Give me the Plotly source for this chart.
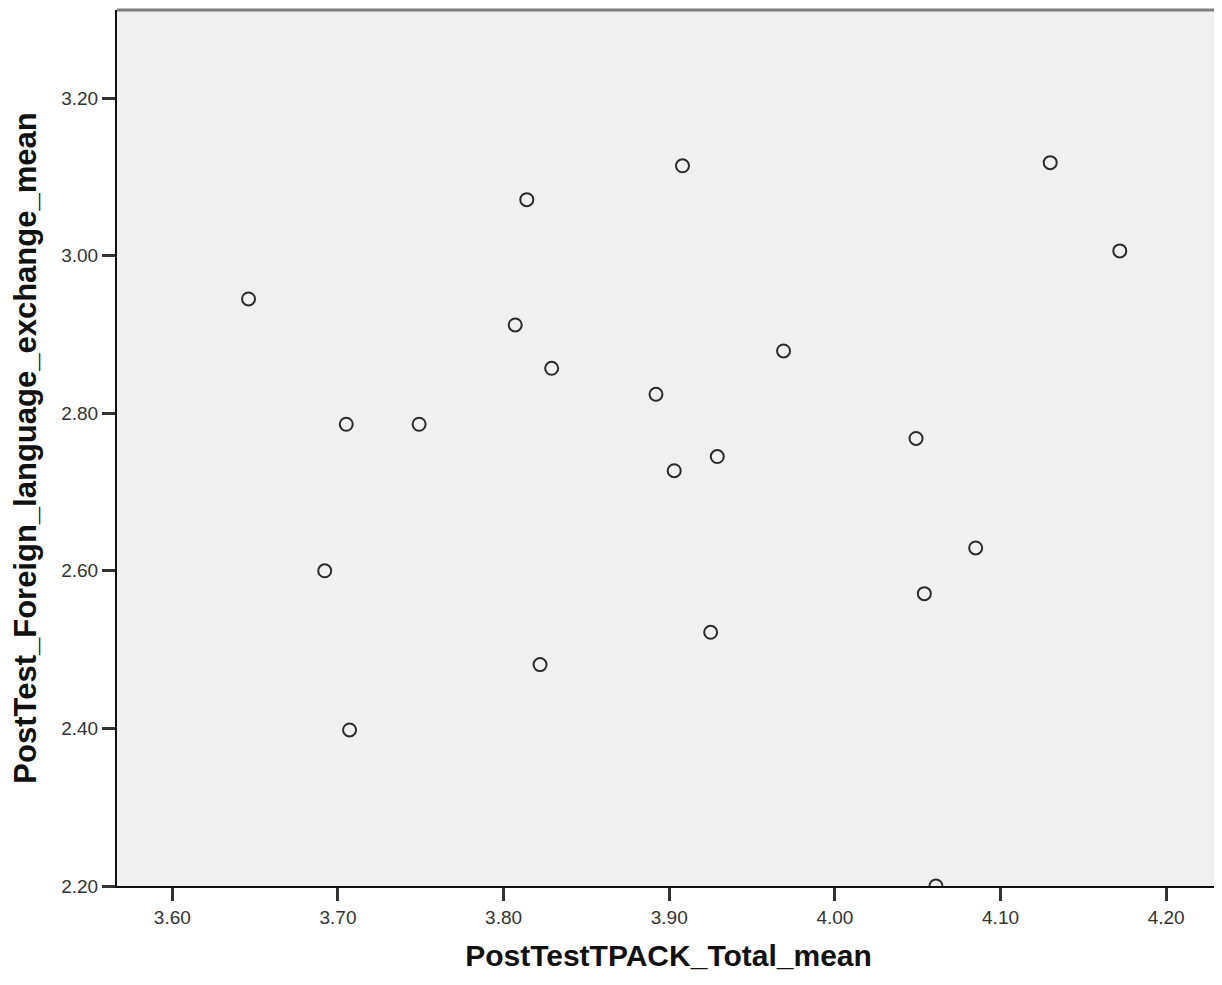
import plotly.graph_objects as go

tpack_total_mean = [3.646, 3.705, 3.749, 3.692, 3.707, 3.814, 3.807, 3.829, 3.822,
                    3.908, 3.892, 3.903, 3.929, 3.925, 3.969, 4.049, 4.054, 4.061,
                    4.085, 4.130, 4.172]
foreign_lang_mean = [2.945, 2.786, 2.786, 2.600, 2.398, 3.071, 2.912, 2.857, 2.481,
                     3.114, 2.824, 2.727, 2.745, 2.522, 2.879, 2.768, 2.571, 2.200,
                     2.629, 3.118, 3.006]

x_ticks = [3.60, 3.70, 3.80, 3.90, 4.00, 4.10, 4.20]
y_ticks = [2.20, 2.40, 2.60, 2.80, 3.00, 3.20]

font_family = "Arial, Liberation Sans, sans-serif"

fig = go.Figure()
fig.add_trace(go.Scatter(
    x=tpack_total_mean, y=foreign_lang_mean, mode="markers",
    marker=dict(symbol="circle-open", size=13, color="#2b2b2b", line=dict(width=2, color="#2b2b2b")),
    showlegend=False, hoverinfo="x+y",
))

fig.update_layout(
    width=1214, height=977,
    margin=dict(l=109, r=2, t=2, b=99),
    paper_bgcolor="white", plot_bgcolor="#f0f0f0",
    font=dict(family=font_family, color="#222222"),
    xaxis=dict(
        range=[3.5666, 4.2325], tickvals=x_ticks, ticktext=[f"{v:.2f}" for v in x_ticks],
        showgrid=False, zeroline=False, showline=True, linecolor="#111111", linewidth=2,
        ticks="outside", ticklen=13, tickwidth=2.5, tickcolor="#333333",
        tickfont=dict(size=19, color="#333333"),
        title=dict(text="<b>PostTestTPACK_Total_mean</b>", font=dict(size=30, color="#111111"), standoff=18),
    ),
    yaxis=dict(
        range=[2.2, 3.3117], tickvals=y_ticks, ticktext=[f"{v:.2f}" for v in y_ticks],
        showgrid=False, zeroline=False, showline=True, linecolor="#111111", linewidth=2,
        ticks="outside", ticklen=13, tickwidth=2.5, tickcolor="#333333",
        tickfont=dict(size=19, color="#333333"),
        title=dict(text="<b>PostTest_Foreign_language_exchange_mean</b>", font=dict(size=31, color="#111111"), standoff=15),
    ),
    shapes=[
        dict(type="line", xref="paper", yref="paper", x0=0, x1=1, y0=1, y1=1,
             line=dict(color="#808080", width=3)),
        dict(type="line", xref="paper", yref="paper", x0=1, x1=1, y0=0, y1=1,
             line=dict(color="#6a6a6a", width=2)),
    ],
)

fig.write_html("out.html")
